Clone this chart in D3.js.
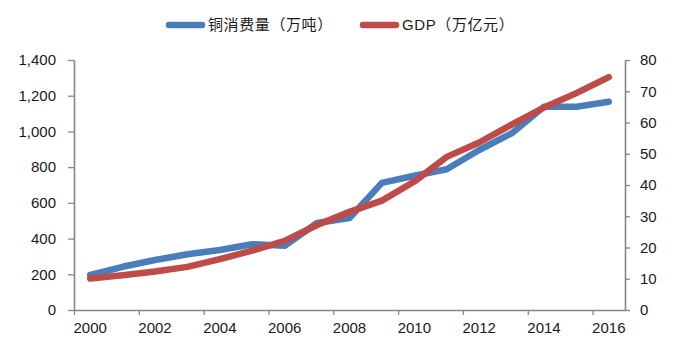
<!DOCTYPE html>
<html><head><meta charset="utf-8">
<script src="https://cdn.jsdelivr.net/npm/d3@7"></script>
<style>
html,body{margin:0;padding:0;background:#fff;}
svg{display:block;}
</style></head>
<body>
<svg id="c" width="674" height="363"></svg>
<script>
const years = [2000,2001,2002,2003,2004,2005,2006,2007,2008,2009,2010,2011,2012,2013,2014,2015,2016];
const copper = [196,242,280,312,336,368,360,487,515,712,752,788,896,989,1138,1138,1166];
const gdp = [10.1,11.1,12.3,13.8,16.3,19.0,22.1,27.2,31.4,35.0,41.1,49.0,53.6,59.3,64.8,69.4,74.5];
const leftTicks = [0,200,400,600,800,1000,1200,1400];
const rightTicks = [0,10,20,30,40,50,60,70,80];
const xLabels = [2000,2002,2004,2006,2008,2010,2012,2014,2016];
const seriesNames = ["铜消费量（万吨）","GDP（万亿元）"];
const colors = ["#4A7EBB","#BE4B48"];

const svg = d3.select("#c");
const L = 74, R = 625, T = 60, B = 310;
const axisColor = "#868686";
const font = "'Liberation Sans', Arial, sans-serif";

const x = d3.scaleBand().domain(years).range([L, R]).padding(0);
const xb = d3.scaleLinear().domain([0, years.length]).range([L, R]);
const yL = d3.scaleLinear().domain([0, 1400]).range([B, T]);
const yR = d3.scaleLinear().domain([0, 80]).range([B, T]);
const cx = d => x(d) + x.bandwidth() / 2;

function styleAxis(g) {
  g.select(".domain").attr("stroke", axisColor).attr("stroke-width", 1.6);
  g.selectAll(".tick line").attr("stroke", axisColor).attr("stroke-width", 1.3);
  g.selectAll("text").attr("fill", "#1a1a1a").style("font-family", font).style("font-size", "15px");
}

// left axis
svg.append("g").attr("transform", `translate(${L},0)`)
  .call(d3.axisLeft(yL).tickValues(leftTicks).tickFormat(d3.format(",")).tickSize(6).tickPadding(12).tickSizeOuter(0))
  .call(styleAxis);
// right axis
svg.append("g").attr("transform", `translate(${R},0)`)
  .call(d3.axisRight(yR).tickValues(rightTicks).tickFormat(d3.format("d")).tickSize(5).tickPadding(10).tickSizeOuter(0))
  .call(styleAxis);
// bottom tick marks (category boundaries, every 2)
const bTicks = d3.range(0, years.length, 2);
svg.append("g").attr("transform", `translate(0,${B})`)
  .call(d3.axisBottom(xb).tickValues(bTicks).tickFormat("").tickSize(5).tickSizeOuter(0))
  .call(styleAxis);
// bottom labels
svg.append("g").attr("transform", `translate(0,${B})`)
  .call(d3.axisBottom(x).tickValues(xLabels).tickSize(0).tickPadding(12))
  .call(g => g.select(".domain").remove())
  .call(styleAxis);

// lines
const lineC = d3.line().x((d, i) => cx(years[i])).y(d => yL(d));
const lineG = d3.line().x((d, i) => cx(years[i])).y(d => yR(d));
svg.append("path").datum(copper).attr("d", lineC)
  .attr("fill", "none").attr("stroke", colors[0]).attr("stroke-width", 6.5)
  .attr("stroke-linejoin", "round").attr("stroke-linecap", "round");
svg.append("path").datum(gdp).attr("d", lineG)
  .attr("fill", "none").attr("stroke", colors[1]).attr("stroke-width", 6.5)
  .attr("stroke-linejoin", "round").attr("stroke-linecap", "round");

// legend
const leg = [{x: 166, tx: 208}, {x: 360, tx: 402}];
leg.forEach((p, i) => {
  svg.append("line").attr("x1", p.x + 3).attr("x2", p.x + 36).attr("y1", 25).attr("y2", 25)
    .attr("stroke", colors[i]).attr("stroke-width", 6.5).attr("stroke-linecap", "round");
  svg.append("text").attr("x", p.tx).attr("y", 25).attr("dy", "0.36em")
    .attr("fill", "#1a1a1a").style("font-family", "'Liberation Sans','Noto Sans CJK SC', sans-serif")
    .style("font-size", "15px").style("letter-spacing", "0.6px").text(seriesNames[i]);
});
</script>
</body></html>
